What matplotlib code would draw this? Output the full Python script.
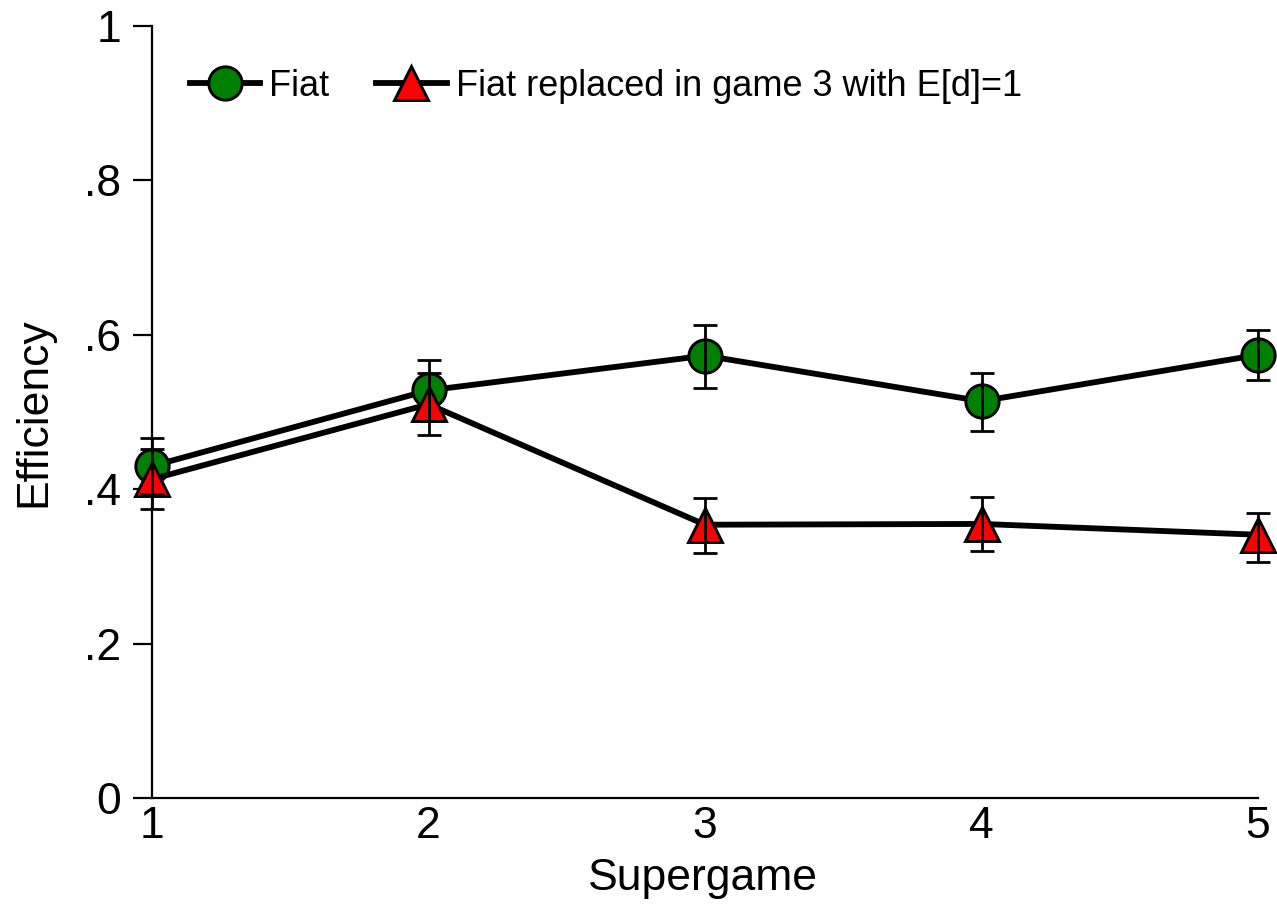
import matplotlib
matplotlib.use("Agg")
import matplotlib.pyplot as plt
from matplotlib.lines import Line2D

plt.rcParams['font.family'] = ['Liberation Sans', 'DejaVu Sans']

supergame = [1, 2, 3, 4, 5]
fiat = [0.430, 0.528, 0.573, 0.514, 0.574]
fiat_lo = [0.394, 0.488, 0.531, 0.475, 0.541]
fiat_hi = [0.466, 0.567, 0.613, 0.551, 0.606]
repl = [0.413, 0.510, 0.354, 0.355, 0.341]
repl_lo = [0.374, 0.470, 0.317, 0.320, 0.306]
repl_hi = [0.452, 0.550, 0.389, 0.390, 0.369]
yticks = [0, 0.2, 0.4, 0.6, 0.8, 1]
yticklabels = ['0', '.2', '.4', '.6', '.8', '1']

fig = plt.figure(figsize=(12.77, 9.08), dpi=100)
ax = fig.add_axes([152/1277, 1-798/908, (1258-152)/1277, (798-26)/908])

def series(y, lo, hi, marker, color, ms):
    ax.plot(supergame, y, color='black', lw=4.2, marker=marker, ms=ms,
            mfc=color, mec='black', mew=2.1, zorder=3, clip_on=False)
    yerr = [[v - l for v, l in zip(y, lo)], [h - v for v, h in zip(y, hi)]]
    ax.errorbar(supergame, y, yerr=yerr, fmt='none', ecolor='black',
                elinewidth=2.0, capsize=8.5, capthick=2.0, zorder=4, clip_on=False)

series(fiat, fiat_lo, fiat_hi, 'o', '#008000', 24)
series(repl, repl_lo, repl_hi, '^', '#ff0000', 25)

ax.set_xlim(1, 5)
ax.set_ylim(0, 1)
ax.set_xticks(supergame)
ax.set_yticks(yticks)
ax.set_yticklabels(yticklabels)
for s in ['top', 'right']:
    ax.spines[s].set_visible(False)
for s in ['left', 'bottom']:
    ax.spines[s].set_linewidth(1.6)
ax.tick_params(axis='y', labelsize=32, length=13.5, width=1.6, pad=9)
ax.tick_params(axis='x', labelsize=32, length=0, pad=6)
ax.set_xlabel('Supergame', fontsize=32)
ax.set_ylabel('Efficiency', fontsize=32)
ax.xaxis.set_label_coords(0.498, -0.078)
ax.yaxis.set_label_coords(-0.088, 0.5)

handles = [
    Line2D([], [], color='black', lw=4.2, marker='o', ms=24, mfc='#008000', mec='black', mew=2.1),
    Line2D([], [], color='black', lw=4.2, marker='^', ms=25, mfc='#ff0000', mec='black', mew=2.1),
]
ax.legend(handles, ['Fiat', 'Fiat replaced in game 3 with E[d]=1'], loc='center left',
          bbox_to_anchor=(0.034, (798-86)/772), ncol=2, frameon=False, fontsize=26,
          handlelength=1.95, handletextpad=0.25, columnspacing=1.3, borderaxespad=0,
          borderpad=0)

fig.savefig('out.png', dpi=100)
